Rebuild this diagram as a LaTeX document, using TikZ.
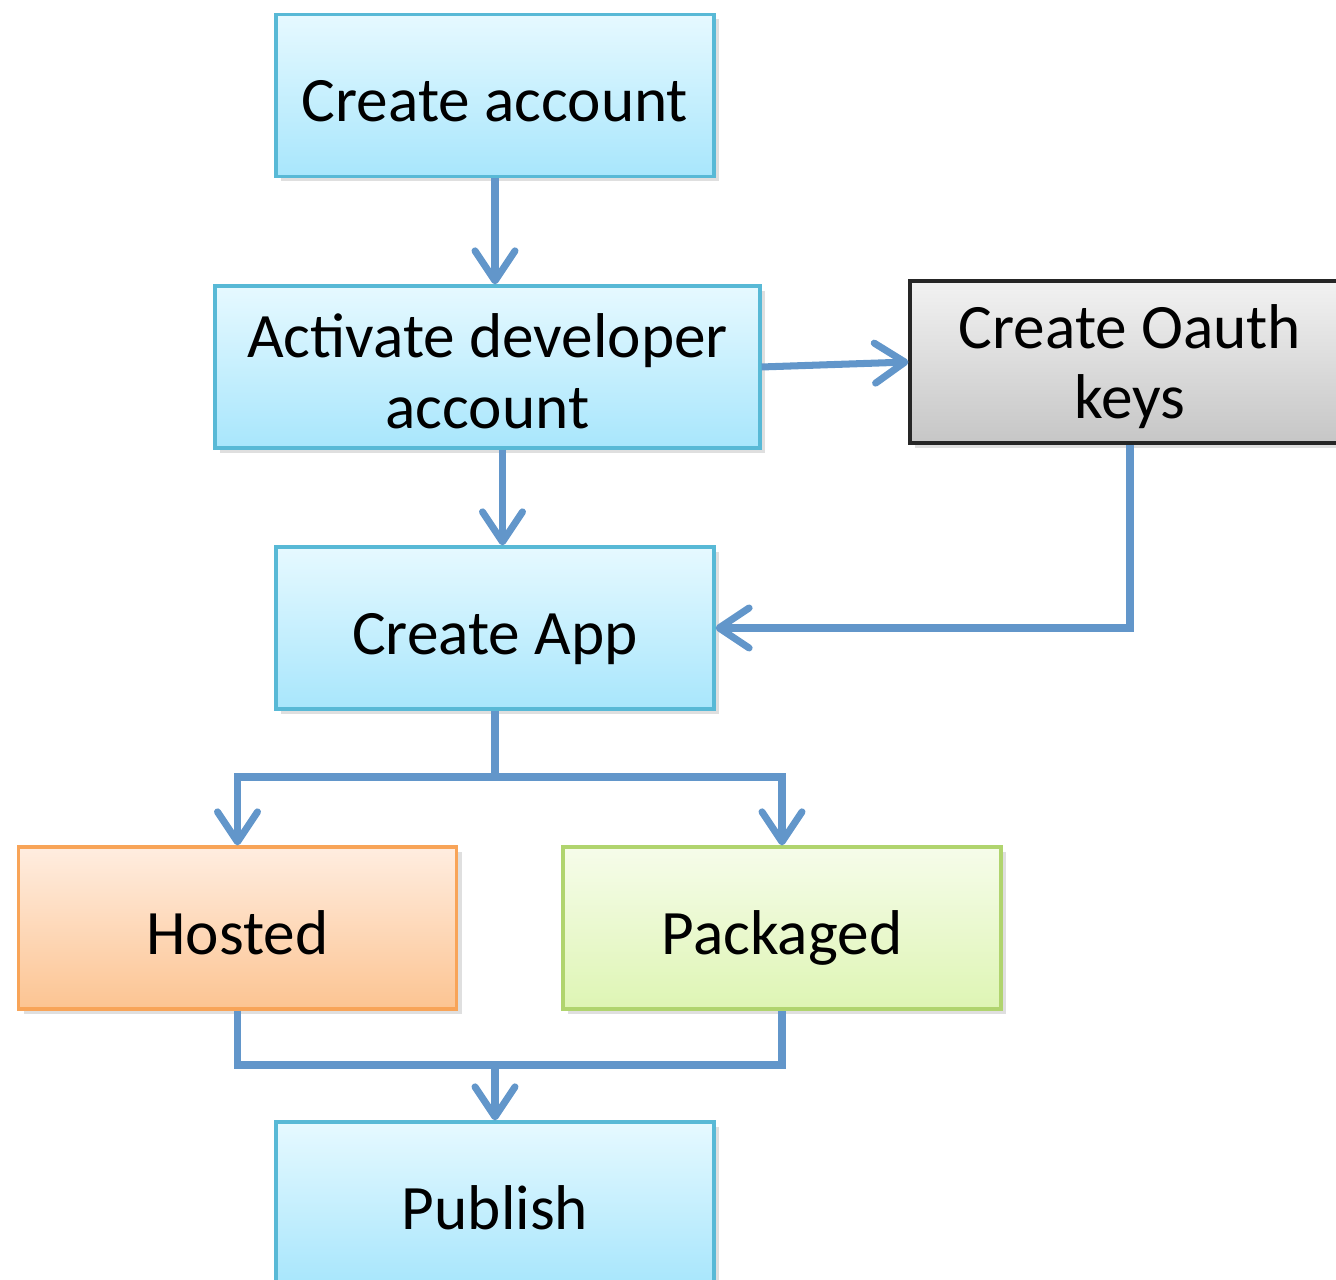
\documentclass[tikz,border=0pt]{standalone}
\usepackage{fontspec}
\setmainfont{Carlito}
\usetikzlibrary{arrows.meta,shadows}
\definecolor{flowblue}{RGB}{98,150,202}
\definecolor{boxedge}{RGB}{88,185,214}
\definecolor{boxtop}{RGB}{230,249,255}
\definecolor{boxbot}{RGB}{168,230,252}
\definecolor{greytop}{RGB}{242,242,242}
\definecolor{greybot}{RGB}{198,198,198}
\definecolor{orangetop}{RGB}{255,237,224}
\definecolor{orangebot}{RGB}{252,196,146}
\definecolor{orangeedge}{RGB}{248,164,88}
\definecolor{greentop}{RGB}{246,252,234}
\definecolor{greenbot}{RGB}{222,245,180}
\definecolor{greenedge}{RGB}{176,212,110}

\begin{document}
\begin{tikzpicture}[
  stepbox/.style={draw=boxedge,line width=0.9pt,top color=boxtop,bottom color=boxbot,
    minimum width=4.38cm,minimum height=1.62cm,align=center,inner sep=0pt,
    font=\fontsize{18}{20}\selectfont,
    drop shadow={shadow xshift=0.05cm,shadow yshift=-0.05cm,opacity=0.25}},
  oneline/.style={text height=15pt,text depth=0pt},
  keybox/.style={stepbox,draw=black!85,top color=greytop,bottom color=greybot},
  hostbox/.style={stepbox,draw=orangeedge,top color=orangetop,bottom color=orangebot},
  packbox/.style={stepbox,draw=greenedge,top color=greentop,bottom color=greenbot},
  flow/.style={draw=flowblue,line width=2pt,
    -{Straight Barb[length=3mm,width=4mm,line width=2pt,line cap=round,round]}},
  link/.style={draw=flowblue,line width=2pt}
]
\useasboundingbox (0,0) rectangle (13.36,-12.80);

% steps
\node[stepbox,oneline] (acct) at (4.95,-0.955) {Create account};
\node[stepbox,minimum width=5.45cm] (actv) at (4.875,-3.67) {\rule{0pt}{15pt}Activate developer\\account};
\node[keybox,minimum width=4.40cm] (oauth) at (11.30,-3.62) {\rule{0pt}{15pt}Create Oauth\\keys};
\node[stepbox,oneline] (app) at (4.95,-6.28) {Create App};
\node[hostbox,oneline] (hosted) at (2.375,-9.28) {Hosted};
\node[packbox,oneline] (pack) at (7.82,-9.28) {Packaged};
\node[stepbox,oneline] (pub) at (4.95,-12.03) {Publish};

% arrows
\draw[flow] (acct.south) -- (actv.north -| acct.south);
\draw[flow] (actv.east) -- (oauth.west);
\draw[flow] ([xshift=1.5mm]actv.south) -- ([xshift=1.5mm]actv.south |- app.north);
\draw[flow] (oauth.south) |- (app.east);

% split to hosted and packaged
\coordinate (split) at (4.95,-7.77);
\draw[link] (app.south) -- (split);
\draw[flow] (split) -| (hosted.north);
\draw[flow] (split) -| (pack.north);

% join to publish
\coordinate (join) at (4.95,-10.65);
\draw[link] (hosted.south) |- (join) -| (pack.south);
\draw[flow] (join) -- (pub.north);
\end{tikzpicture}
\end{document}
